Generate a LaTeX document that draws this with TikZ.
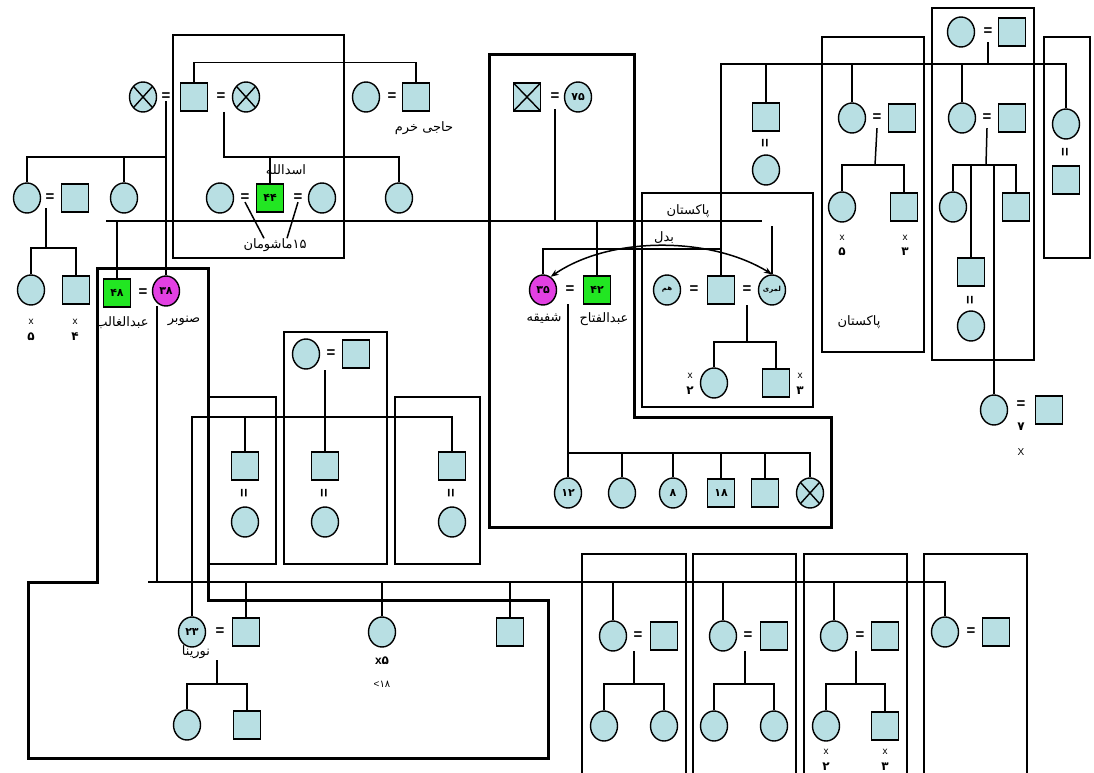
\documentclass[tikz,border=0pt]{standalone}
\usepackage{fontspec}
\setmainfont{Liberation Sans}
\newfontfamily\fa[Script=Arabic]{DejaVu Sans}
\TeXXeTstate=1
\usetikzlibrary{shapes.geometric,arrows.meta}
\definecolor{pblue}{RGB}{184,223,227}
\definecolor{pgreen}{RGB}{34,230,34}
\definecolor{pmag}{RGB}{226,64,226}
\begin{document}
\begin{tikzpicture}[x=1pt,y=-1pt,
  ln/.style={line width=1.5pt},
  bx/.style={line width=1.4pt},
  tk/.style={line width=3pt,line join=miter},
  base/.style={draw=black,line width=1.4pt,fill=pblue,inner sep=0pt,font=\fa\bfseries\fontsize{11}{11}\selectfont},
  fem/.style={base,ellipse,minimum width=27pt,minimum height=30pt},
  mal/.style={base,rectangle,minimum width=27pt,minimum height=28pt},
  xfem/.style={fem,path picture={\draw[line width=1.4pt] (path picture bounding box.north west)--(path picture bounding box.south east) (path picture bounding box.north east)--(path picture bounding box.south west);}},
  xmal/.style={mal,path picture={\draw[line width=1.4pt] (path picture bounding box.north west)--(path picture bounding box.south east) (path picture bounding box.north east)--(path picture bounding box.south west);}},
  grn/.style={fill=pgreen},
  mg/.style={fill=pmag},
  eq/.style={inner sep=0pt,font=\bfseries\fontsize{15}{15}\selectfont},
  veq/.style={eq,rotate=90},
  lab/.style={inner sep=0pt,font=\fa\fontsize{13}{14}\selectfont},
  num/.style={inner sep=0pt,font=\fa\bfseries\fontsize{12}{12}\selectfont},
  sm/.style={inner sep=0pt,font=\fontsize{10}{10}\selectfont}
]
\useasboundingbox[fill=white] (0,0) rectangle (1094,773);

% ---------- boxes ----------
\draw[bx] (173,35) rectangle (344,258);
\draw[bx] (642,193) rectangle (813,407);
\draw[bx] (932,8) rectangle (1034,360);
\draw[bx] (822,37) rectangle (924,352);
\draw[bx] (1044,37) rectangle (1090,258);
\draw[bx] (208,397) rectangle (276,564);
\draw[bx] (284,332) rectangle (387,564);
\draw[bx] (395,397) rectangle (480,564);
\draw[bx] (582,773) -- (582,554) -- (686,554) -- (686,773);
\draw[bx] (693,773) -- (693,554) -- (796,554) -- (796,773);
\draw[bx] (804,773) -- (804,554) -- (907,554) -- (907,773);
\draw[bx] (924,773) -- (924,554) -- (1027,554) -- (1027,773);
\draw[tk] (97,268) -- (208,268) -- (208,600) -- (548,600) -- (548,758) -- (28,758) -- (28,582) -- (97,582) -- cycle;
\draw[tk] (489,55) -- (634,55) -- (634,417) -- (831,417) -- (831,527) -- (489,527) -- cycle;

% ---------- top left ----------
\node[xfem] (x1) at (143,97) {};
\node[eq] (e1) at (166,97) {=};
\node[mal] (s1) at (194,97) {};
\node[eq] (e2) at (221,97) {=};
\node[xfem] (x2) at (246,97) {};
\node[fem] (f1) at (366,97) {};
\node[eq] (e3) at (392,97) {=};
\node[mal] (s2) at (416,97) {};
\node[lab] (l1) at (424,128) {\beginR حاجی خرم\endR};

\node[fem] (f2) at (220,198) {};
\node[eq] (e4) at (245,198) {=};
\node[mal,grn] (g44) at (270,198) {۴۴};
\node[eq] (e5) at (298,198) {=};
\node[fem] (f3) at (322,198) {};
\node[fem] (f4) at (399,198) {};
\node[lab] (l2) at (286,170) {\beginR اسدالله\endR};
\node[lab] (l3) at (275,245) {\beginR\beginL ۱۵\endL ماشومان\endR};

\node[fem] (f5) at (27,198) {};
\node[eq] (e6) at (50,198) {=};
\node[mal] (s3) at (75,198) {};
\node[fem] (f6) at (124,198) {};
\node[fem] (f7) at (31,290) {};
\node[mal] (s4) at (76,290) {};
\node[sm] (t1) at (31,322) {x};
\node[num] (t2) at (31,337) {۵};
\node[sm] (t3) at (75,322) {x};
\node[num] (t4) at (75,337) {۴};

\node[mal,grn] (g48) at (117,293) {۴۸};
\node[eq] (e7) at (143,293) {=};
\node[fem,mg] (m38) at (166,291) {۳۸};
\node[lab] (l4) at (122,323) {\beginR عبدالغالب\endR};
\node[lab] (l5) at (184,321) {\beginR صنوبر\endR};

\coordinate (j1) at (224,157);
\coordinate (j2) at (166,157);
\coordinate (j3) at (46,248);
\coordinate (la) at (106,221);
\coordinate (lb) at (762,221);
\draw[ln] (s1.north) -- ++(0,-20) -| (s2.north);
\draw[ln] (224,112) -- (j1) -| (f4.north);
\draw[ln] (g44.north) -- (g44.north |- j1);
\draw[ln] (e4.south) -- ([xshift=-11pt]l3.north);
\draw[ln] (e5.south) -- ([xshift=12pt]l3.north);
\draw[ln] (m38.north) -- (m38.north |- e1.south);
\draw[ln] (j2) -| (f5.north);
\draw[ln] (f6.north) -- (f6.north |- j2);
\draw[ln] (46,208) -- (j3);
\draw[ln] (f7.north) -- (f7.north |- j3) -| (s4.north);
\draw[ln] (la) -- (lb);
\draw[ln] (g48.north) -- (g48.north |- la);

% ---------- centre ----------
\node[xmal] (xs) at (527,97) {};
\node[eq] (e8) at (555,97) {=};
\node[fem] (f75) at (578,97) {۷۵};
\draw[ln] ([yshift=-8pt]e8.south) -- (e8.south |- la);

\node[fem,mg] (m35) at (543,290) {۳۵};
\node[eq] (e9) at (570,290) {=};
\node[mal,grn] (g42) at (597,290) {۴۲};
\draw[ln] (g42.north) -- (g42.north |- la);
\node[lab] (l6) at (544,319) {\beginR شفیقه\endR};
\node[lab] (l7) at (604,319) {\beginR عبدالفتاح\endR};

\node[fem] (c1) at (568,493) {۱۲};
\node[fem] (c2) at (622,493) {};
\node[fem] (c3) at (673,493) {۸};
\node[mal] (c4) at (721,493) {۱۸};
\node[mal] (c5) at (765,493) {};
\node[xfem] (c6) at (810,493) {};
\coordinate (j4) at (568,453);
\draw[ln] (568,304) -- (c1.north);
\draw[ln] (j4) -| (c6.north);
\foreach \n in {c2,c3,c4,c5} \draw[ln] (\n.north) -- (\n.north |- j4);

\node[lab] (l8) at (688,211) {\beginR پاکستان\endR};
\node[fem] (p1) at (667,290) {\fontsize{7}{7}\selectfont\beginR هم\endR};
\node[eq] (e10) at (694,290) {=};
\node[mal] (p2) at (721,290) {};
\node[eq] (e11) at (747,290) {=};
\node[fem] (p3) at (772,290) {\fontsize{7}{7}\selectfont\beginR لمری\endR};
\coordinate (j5) at (721,249);
\coordinate (sb1) at (721,64);
\draw[ln] (m35.north) -- (m35.north |- j5) -- (j5);
\draw[ln] (p3.north) -- ++(0,-48);
\draw[ln,{Stealth[length=8pt,width=6pt]}-{Stealth[length=8pt,width=6pt]}] (m35.60) .. controls (610,236) and (710,236) .. (p3.north);
\node[lab] (l9) at (664,238) {\beginR بدل\endR};
\node[fem] (p4) at (714,383) {};
\node[mal] (p5) at (776,383) {};
\coordinate (j6) at (747,342);
\draw[ln] (747,305) -- (j6);
\draw[ln] (p4.north) |- (j6) -| (p5.north);
\node[sm] (t5) at (690,376) {x};
\node[num] (t6) at (690,391) {۲};
\node[sm] (t7) at (800,376) {x};
\node[num] (t8) at (800,391) {۳};

% ---------- right ----------
\node[fem] (tf) at (961,32) {};
\node[eq] (e12) at (988,32) {=};
\node[mal] (tm) at (1012,32) {};
\draw[ln] ([yshift=-6pt]e12.south) -- (e12.south |- sb1);

\node[mal] (r1) at (766,117) {};
\node[veq] (e13) at (766,143) {=};
\node[fem] (r2) at (766,170) {};

\node[fem] (r3) at (852,118) {};
\node[eq] (e14) at (877,118) {=};
\node[mal] (r4) at (902,118) {};
\coordinate (j7) at (875,165);
\draw[ln] ([yshift=-6pt]e14.south) -- (j7);
\node[fem] (r5) at (842,207) {};
\node[mal] (r6) at (904,207) {};
\draw[ln] (r5.north) |- (j7) -| (r6.north);
\node[sm] (t9) at (842,238) {x};
\node[num] (t10) at (842,252) {۵};
\node[sm] (t11) at (905,238) {x};
\node[num] (t12) at (905,252) {۳};
\node[lab] (l10) at (859,322) {\beginR پاکستان\endR};

\node[fem] (r7) at (962,118) {};
\node[eq] (e15) at (987,118) {=};
\node[mal] (r8) at (1012,118) {};
\coordinate (j8) at (986,165);
\draw[ln] ([yshift=-6pt]e15.south) -- (j8);
\node[fem] (r9) at (953,207) {};
\node[mal] (r10) at (1016,207) {};
\draw[ln] (r9.north) |- (j8) -| (r10.north);
\node[mal] (r11) at (971,272) {};
\node[veq] (e16) at (971,300) {=};
\node[fem] (r12) at (971,326) {};
\draw[ln] (r11.north) -- (r11.north |- j8);
\node[fem] (r13) at (994,410) {};
\draw[ln] (r13.north) -- (r13.north |- j8);
\node[eq] (e17) at (1021,405) {=};
\node[num] (t13) at (1021,427) {۷};
\node[sm] (t14) at (1021,452) {X};
\node[mal] (r14) at (1049,410) {};

\node[fem] (r15) at (1066,124) {};
\node[veq] (e18) at (1066,152) {=};
\node[mal] (r16) at (1066,180) {};

\draw[ln] (p2.north) -- (sb1) -- (r15.north |- sb1) -- (r15.north);
\foreach \n in {r1,r3,r7} \draw[ln] (\n.north) -- (\n.north |- sb1);

% ---------- bottom left ----------
\node[mal] (b1) at (245,466) {};
\node[veq] (e19) at (245,493) {=};
\node[fem] (b2) at (245,522) {};
\node[fem] (b3) at (306,354) {};
\node[eq] (e20) at (331,354) {=};
\node[mal] (b4) at (356,354) {};
\node[mal] (b5) at (325,466) {};
\node[veq] (e21) at (325,493) {=};
\node[fem] (b6) at (325,522) {};
\draw[ln] (b5.north) -- (b5.north |- b3.south);
\node[mal] (b7) at (452,466) {};
\node[veq] (e22) at (452,493) {=};
\node[fem] (b8) at (452,522) {};

\node[fem] (f23) at (192,632) {۲۳};
\node[eq] (e23) at (220,632) {=};
\node[mal] (b9) at (246,632) {};
\node[lab] (l11) at (196,652) {\beginR نورینا\endR};
\coordinate (j9) at (192,417);
\draw[ln] (f23.north) -- (j9) -| (b7.north);
\draw[ln] (b1.north) -- (b1.north |- j9);
\coordinate (j10) at (217,684);
\draw[ln] (217,660) -- (j10);
\node[fem] (b10) at (187,725) {};
\node[mal] (b11) at (247,725) {};
\draw[ln] (b10.north) |- (j10) -| (b11.north);

\node[fem] (b12) at (382,632) {};
\node[num] (t15) at (382,661) {{\rmfamily x}{\fa ۵}};
\node[num] (t16) at (382,684) {{\rmfamily\mdseries\fontsize{10}{10}\selectfont <}{\fa\mdseries\fontsize{10}{10}\selectfont ۱۸}};
\node[mal] (b13) at (510,632) {};

% ---------- bottom right ----------
\node[fem] (q1) at (613,636) {};
\node[eq] (e24) at (638,636) {=};
\node[mal] (q2) at (664,636) {};
\coordinate (k1) at (634,684);
\draw[ln] (634,651) -- (k1);
\node[fem] (q3) at (604,726) {};
\node[fem] (q4) at (664,726) {};
\draw[ln] (q3.north) |- (k1) -| (q4.north);

\node[fem] (q5) at (723,636) {};
\node[eq] (e25) at (748,636) {=};
\node[mal] (q6) at (774,636) {};
\coordinate (k2) at (745,684);
\draw[ln] (745,651) -- (k2);
\node[fem] (q7) at (714,726) {};
\node[fem] (q8) at (774,726) {};
\draw[ln] (q7.north) |- (k2) -| (q8.north);

\node[fem] (q9) at (834,636) {};
\node[eq] (e26) at (860,636) {=};
\node[mal] (q10) at (885,636) {};
\coordinate (k3) at (856,684);
\draw[ln] (856,651) -- (k3);
\node[fem] (q11) at (826,726) {};
\node[mal] (q12) at (885,726) {};
\draw[ln] (q11.north) |- (k3) -| (q12.north);
\node[sm] (t17) at (826,752) {x};
\node[num] (t18) at (826,767) {۲};
\node[sm] (t19) at (885,752) {x};
\node[num] (t20) at (885,767) {۳};

\node[fem] (q13) at (945,632) {};
\node[eq] (e27) at (971,632) {=};
\node[mal] (q14) at (996,632) {};

\coordinate (j11) at (148,582);
\draw[ln] (157,306) -- (157,582);
\draw[ln] (j11) -- (q13.north |- j11) -- (q13.north);
\foreach \n in {b9,b12,b13,q1,q5,q9} \draw[ln] (\n.north) -- (\n.north |- j11);
\end{tikzpicture}
\end{document}
